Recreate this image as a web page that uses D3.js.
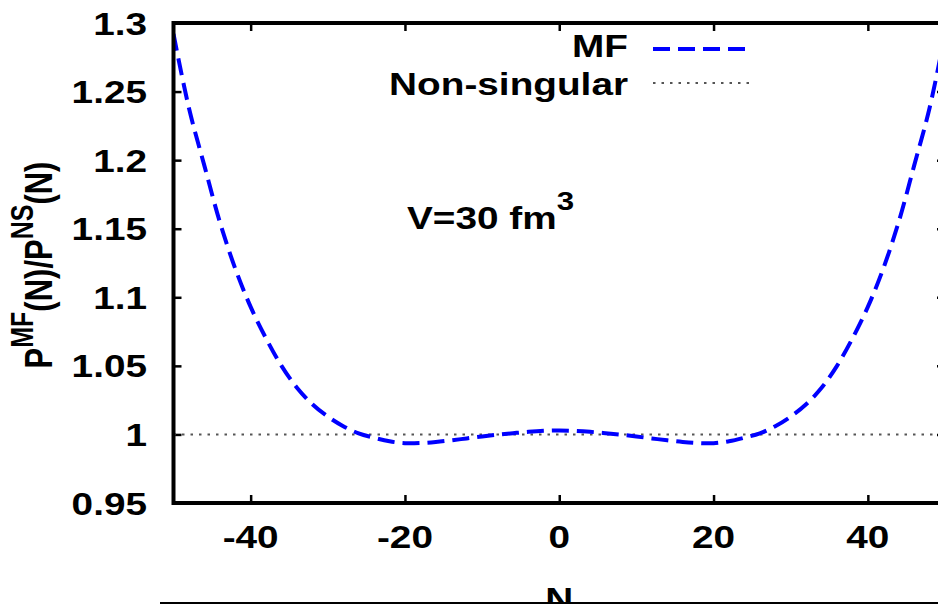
<!DOCTYPE html>
<html>
<head>
<meta charset="utf-8">
<script src="https://cdn.jsdelivr.net/npm/d3@7"></script>
<style>
  html, body { margin: 0; padding: 0; background: #fff; overflow: hidden; }
  text { font-family: "Liberation Sans", Arial, Helvetica, sans-serif; font-weight: bold; fill: #000; }
</style>
</head>
<body>
<svg id="chart" width="938" height="604"></svg>
<script>
// Particle number N
const particleNumber = [
  -50, -48, -46, -44, -42, -40, -38, -36, -34, -32, -30, -28, -26, -24, -22, -20, -18,
  -16, -14, -12, -10, -8, -6, -4, -2, 0, 2, 4, 6, 8, 10, 12, 14, 16, 18, 20, 22, 24,
  26, 28, 30, 32, 34, 36, 38, 40, 42, 44, 46, 48, 50
];
// Ratio P^MF(N) / P^NS(N)
const ratioMF = [
  1.292, 1.238, 1.196, 1.155, 1.121, 1.093, 1.070, 1.050, 1.034, 1.022, 1.013, 1.006, 1.0008,
  0.9976, 0.9950, 0.9936, 0.9937, 0.9945, 0.9957, 0.9971, 0.9985, 0.9998, 1.0009, 1.0019,
  1.0026, 1.0029, 1.0026, 1.0019, 1.0009, 0.9998, 0.9985, 0.9971, 0.9957, 0.9945, 0.9937,
  0.9936, 0.9950, 0.9976, 1.0008, 1.006, 1.013, 1.022, 1.034, 1.050, 1.070, 1.093, 1.121,
  1.155, 1.196, 1.238, 1.292
];
// Non-singular reference level
const nonSingularLevel = 1;

const xTicks = [-40, -20, 0, 20, 40];
const xTickLabels = ["-40", "-20", "0", "20", "40"];
const yTicks = [0.95, 1, 1.05, 1.1, 1.15, 1.2, 1.25, 1.3];
const yTickLabels = ["0.95", "1", "1.05", "1.1", "1.15", "1.2", "1.25", "1.3"];

const seriesNames = ["MF", "Non-singular"];
const annotation = "V=30 fm";
const annotationSup = "3";

(function draw() {
  const svg = d3.select("#chart");
  const STRETCH = 1.25;
  const FONT = 31;

  const plotLeft = 173.5, plotRight = 945, plotTop = 23, plotBottom = 503;
  const x = d3.scaleLinear().domain([-50, 50]).range([plotLeft, plotRight]);
  const y = d3.scaleLinear().domain([0.95, 1.3]).range([plotBottom, plotTop]);

  svg.append("rect").attr("width", 938).attr("height", 604).attr("fill", "#fff");

  // clip for plotted data
  svg.append("defs").append("clipPath").attr("id", "plotClip")
    .append("rect").attr("x", plotLeft).attr("y", plotTop)
    .attr("width", plotRight - plotLeft).attr("height", plotBottom - plotTop);

  // horizontally widened text
  function wideText(parent, tx, ty, str, anchor, size) {
    const g = parent.append("g").attr("transform", `translate(${tx},${ty}) scale(${STRETCH},1)`);
    return g.append("text").attr("text-anchor", anchor).attr("font-size", size || FONT).text(str);
  }

  // inward ticks on all four sides
  const tickLen = 8;
  function styleAxis(g) {
    g.select(".domain").remove();
    g.selectAll(".tick line").attr("stroke", "#000").attr("stroke-width", 2.5);
    g.selectAll(".tick text").remove();
  }
  svg.append("g").attr("transform", `translate(${plotLeft},0)`)
    .call(d3.axisLeft(y).tickValues(yTicks).tickSizeInner(-tickLen).tickSizeOuter(0).tickFormat(""))
    .call(styleAxis);
  svg.append("g").attr("transform", `translate(${plotRight},0)`)
    .call(d3.axisRight(y).tickValues(yTicks).tickSizeInner(-tickLen).tickSizeOuter(0).tickFormat(""))
    .call(styleAxis);
  svg.append("g").attr("transform", `translate(0,${plotBottom})`)
    .call(d3.axisBottom(x).tickValues(xTicks).tickSizeInner(-tickLen).tickSizeOuter(0).tickFormat(""))
    .call(styleAxis);
  svg.append("g").attr("transform", `translate(0,${plotTop})`)
    .call(d3.axisTop(x).tickValues(xTicks).tickSizeInner(-tickLen).tickSizeOuter(0).tickFormat(""))
    .call(styleAxis);

  // tick labels
  yTicks.forEach((v, i) => wideText(svg, 147, y(v) + 11.5, yTickLabels[i], "end"));
  xTicks.forEach((v, i) => wideText(svg, x(v), 548, xTickLabels[i], "middle"));

  // non-singular reference line
  const plot = svg.append("g").attr("clip-path", "url(#plotClip)");
  plot.append("line")
    .attr("x1", x(-50)).attr("x2", x(50))
    .attr("y1", y(nonSingularLevel)).attr("y2", y(nonSingularLevel))
    .attr("stroke", "#555").attr("stroke-width", 2).attr("stroke-dasharray", "2.5,6");

  // MF curve
  const line = d3.line()
    .x((d, i) => x(particleNumber[i]))
    .y(d => y(d))
    .curve(d3.curveCatmullRom);
  plot.append("path")
    .attr("d", line(ratioMF))
    .attr("fill", "none")
    .attr("stroke", "#0000ff")
    .attr("stroke-width", 4)
    .attr("stroke-dasharray", "17,8");

  // frame
  svg.append("rect")
    .attr("x", plotLeft).attr("y", plotTop)
    .attr("width", plotRight - plotLeft).attr("height", plotBottom - plotTop)
    .attr("fill", "none").attr("stroke", "#000").attr("stroke-width", 4);

  // legend
  wideText(svg, 628, 57, seriesNames[0], "end");
  svg.append("line").attr("x1", 653).attr("x2", 750).attr("y1", 49).attr("y2", 49)
    .attr("stroke", "#0000ff").attr("stroke-width", 4).attr("stroke-dasharray", "17,8");
  wideText(svg, 628, 95, seriesNames[1], "end");
  svg.append("line").attr("x1", 653).attr("x2", 752).attr("y1", 83).attr("y2", 83)
    .attr("stroke", "#555").attr("stroke-width", 2).attr("stroke-dasharray", "2.5,6");

  // annotation
  {
    const g = svg.append("g").attr("transform", `translate(407,229) scale(${STRETCH},1)`);
    const t = g.append("text").attr("font-size", FONT);
    t.append("tspan").text(annotation);
    t.append("tspan").attr("font-size", 25).attr("dy", -19).text(annotationSup);
  }

  // axis titles
  wideText(svg, x(0), 610, "N", "middle");
  {
    const g = svg.append("g").attr("transform", `translate(52,265) scale(${STRETCH},1) rotate(-90)`);
    const t = g.append("text").attr("text-anchor", "middle").attr("font-size", FONT);
    t.append("tspan").text("P");
    t.append("tspan").attr("font-size", 25).attr("dy", -15).text("MF");
    t.append("tspan").attr("dy", 15).text("(N)/P");
    t.append("tspan").attr("font-size", 25).attr("dy", -15).text("NS");
    t.append("tspan").attr("dy", 15).text("(N)");
  }

  // rule along the lower edge
  svg.append("line").attr("x1", 160).attr("x2", 938).attr("y1", 603).attr("y2", 603)
    .attr("stroke", "#000").attr("stroke-width", 2);
})();
</script>
</body>
</html>
